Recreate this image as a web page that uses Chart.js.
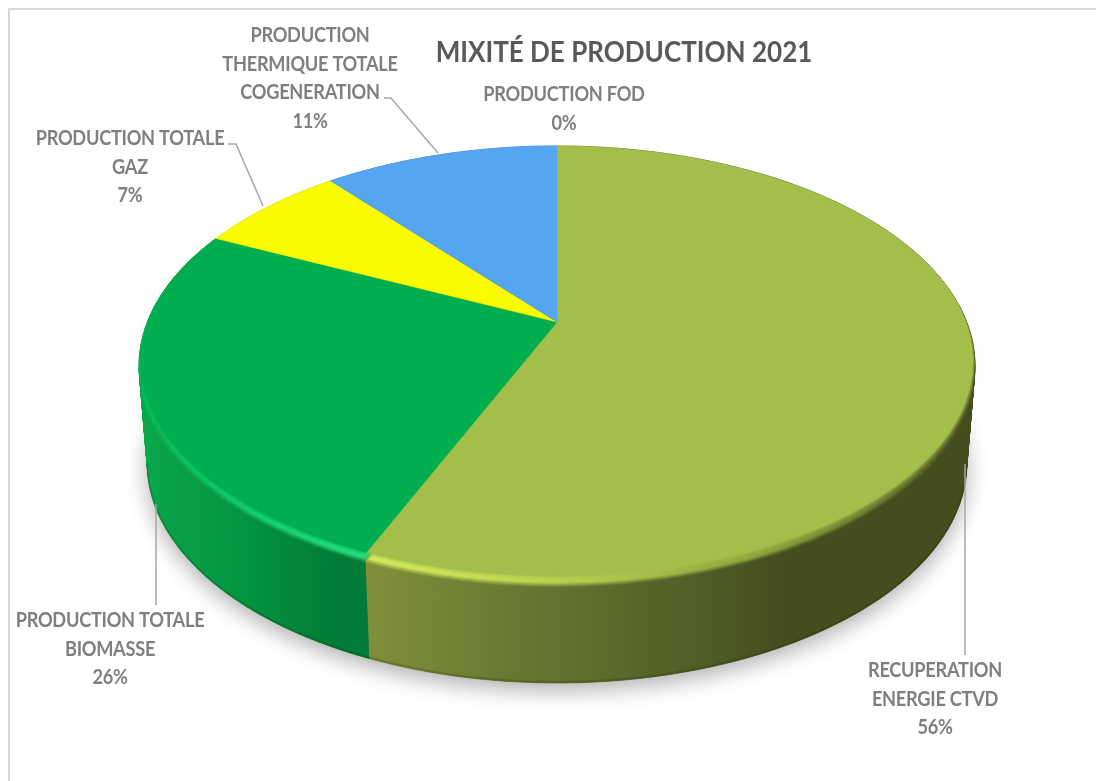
<!DOCTYPE html>
<html lang="fr">
<head>
<meta charset="utf-8">
<title>Mixité de production 2021</title>
<script src="https://cdn.jsdelivr.net/npm/chart.js@4"></script>
<style>
  html, body { margin: 0; background: #fff; }
  canvas { display: block; }
</style>
</head>
<body>
<canvas id="pie" width="1096" height="781"></canvas>
<script>
const chartTitle = 'MIXITÉ DE PRODUCTION 2021'
const categories = ['RECUPERATION ENERGIE CTVD', 'PRODUCTION TOTALE BIOMASSE', 'PRODUCTION TOTALE GAZ', 'PRODUCTION THERMIQUE TOTALE COGENERATION', 'PRODUCTION FOD']
const categoryLines = [
  ['RECUPERATION', 'ENERGIE CTVD'],
  ['PRODUCTION TOTALE', 'BIOMASSE'],
  ['PRODUCTION TOTALE', 'GAZ'],
  ['PRODUCTION', 'THERMIQUE TOTALE', 'COGENERATION'],
  ['PRODUCTION FOD']
]
const values = [56.25, 25.75, 7.0, 11.0, 0]

const faceColors = ['#a4be4b', '#00ad4f', '#fbfb00', '#56a5f0', '#8a8a8a']
// rim and wall colours run left to right across the picture
const rimStops = [
  [[0, '#d4ea5c'], [0.3, '#bcd452'], [0.65, '#8fa53c'], [1, '#55602a']],
  [[0, '#00c75f'], [0.6, '#14d574'], [1, '#24dd80']],
  [[0, '#fbfb00'], [1, '#fbfb00']],
  [[0, '#56a5f0'], [1, '#56a5f0']],
  [[0, '#8a8a8a'], [1, '#8a8a8a']]
]
const wallStops = [
  [[0, '#80903a'], [0.32, '#62712f'], [0.58, '#4e5a24'], [0.68, '#454d1f'], [1, '#454d1e']],
  [[0, '#0aa94c'], [0.45, '#039540'], [0.85, '#007c38'], [1, '#007c38']],
  [[0, '#c8c800'], [1, '#c8c800']],
  [[0, '#3f7fc0'], [1, '#3f7fc0']],
  [[0, '#666'], [1, '#666']]
]
const wallRange = [[365, 975], [138, 369], [138, 369], [138, 369], [138, 369]]

// label anchors: centre x and centre y of every line
const labelCentreX = [935, 110, 130, 310, 564]
const labelFirstY = [671, 621, 139, 36, 95]
const labelLineStep = 28.5
const leaders = [
  [[965, 464], [965, 655]],
  [[156, 504], [156, 605]],
  [[228, 144], [236, 144], [263, 206]],
  [[384, 98], [391, 98], [438, 153]]
]

// perspective of the disc
const apexX = 557, apexY = 322
const persp = 0.198, radX = 409.7, radY = 210.9
const depth = 98, baseShrink = 0.98, bevel = 9

function topPoint(a) {
  const u = Math.cos(a), v = Math.sin(a), d = 1 - persp * v
  return [apexX + radX * u / d, apexY + radY * v / d]
}
function basePoint(a) {
  const p = topPoint(a)
  return [apexX + (p[0] - apexX) * baseShrink, p[1] + depth]
}
function facePoint(a) {
  const p = topPoint(a), k = (1 + Math.sin(a)) / 2
  return [apexX + (p[0] - apexX) * (1 - 0.008 * k), p[1] - bevel * k * k]
}
function arcPoints(fn, a0, a1) {
  const n = Math.max(2, Math.ceil(Math.abs(a1 - a0) / 0.01))
  const out = []
  for (let i = 0; i <= n; i++) out.push(fn(a0 + (a1 - a0) * i / n))
  return out
}
function tracePoly(ctx, pts) {
  ctx.beginPath()
  pts.forEach((p, i) => i ? ctx.lineTo(p[0], p[1]) : ctx.moveTo(p[0], p[1]))
  ctx.closePath()
}
function hGradient(ctx, range, stops) {
  const g = ctx.createLinearGradient(range[0], 0, range[1], 0)
  stops.forEach(s => g.addColorStop(s[0], s[1]))
  return g
}
function squeezedText(ctx, text, x, y, sx) {
  ctx.save()
  ctx.translate(x, y)
  ctx.scale(sx, 1)
  ctx.fillText(text, 0, 0)
  ctx.restore()
}

const pie3dPlugin = {
  id: 'pie3d',
  beforeDatasetDraw(chart, args) {
    const ctx = chart.ctx
    const arcs = chart.getDatasetMeta(args.index).data
    const slices = arcs.map(arc => arc.getProps(['startAngle', 'endAngle'], true))

    // ground shadow
    ctx.save()
    ctx.shadowColor = 'rgba(0,0,0,0.32)'
    ctx.shadowBlur = 22
    ctx.shadowOffsetY = 7
    ctx.fillStyle = '#454d1e'
    tracePoly(ctx, arcPoints(basePoint, -Math.PI / 2, Math.PI * 1.5))
    ctx.fill()
    ctx.restore()

    // walls, one small quad at a time so the fold at the silhouette stays filled
    slices.forEach((s, i) => {
      if (s.endAngle - s.startAngle < 0.001) return
      const fill = hGradient(ctx, wallRange[i], wallStops[i])
      ctx.fillStyle = fill
      ctx.strokeStyle = fill
      ctx.lineWidth = 0.8
      const tops = arcPoints(topPoint, s.startAngle, s.endAngle)
      const bases = arcPoints(basePoint, s.startAngle, s.endAngle)
      for (let k = 0; k < tops.length - 1; k++) {
        tracePoly(ctx, [tops[k], tops[k + 1], bases[k + 1], bases[k]])
        ctx.fill()
        ctx.stroke()
      }
    })

    // dark line along the foot of the wall
    ctx.save()
    ctx.beginPath()
    arcPoints(basePoint, 0.2, Math.PI - 0.2).forEach((p, i) => i ? ctx.lineTo(p[0], p[1] - 1) : ctx.moveTo(p[0], p[1] - 1))
    ctx.strokeStyle = 'rgba(30,40,0,0.22)'
    ctx.lineWidth = 2
    ctx.stroke()
    ctx.restore()

    // soft rim band on the front half, kept inside the outline of the disc, then the flat top
    ctx.save()
    tracePoly(ctx, arcPoints(topPoint, Math.PI + 0.2, Math.PI * 2 - 0.2).concat(arcPoints(topPoint, -0.2, 0.2), arcPoints(basePoint, 0.2, Math.PI - 0.2), arcPoints(topPoint, Math.PI - 0.2, Math.PI + 0.2)))
    ctx.clip()
    ctx.filter = 'blur(1.4px)'
    slices.forEach((s, i) => {
      const a0 = Math.max(s.startAngle, -0.25), a1 = Math.min(s.endAngle, Math.PI + 0.25)
      if (a1 - a0 < 0.001) return
      tracePoly(ctx, [[apexX, apexY]].concat(arcPoints(topPoint, a0, a1)))
      ctx.fillStyle = hGradient(ctx, wallRange[i], rimStops[i])
      ctx.fill()
    })
    slices.forEach((s, i) => {
      const a0 = Math.max(s.startAngle, -0.25), a1 = Math.min(s.endAngle, Math.PI + 0.25)
      if (a1 - a0 < 0.001) return
      ctx.beginPath()
      arcPoints(facePoint, a0, a1).forEach((p, k) => k ? ctx.lineTo(p[0], p[1]) : ctx.moveTo(p[0], p[1]))
      ctx.strokeStyle = faceColors[i]
      ctx.lineWidth = 2.5
      ctx.stroke()
    })
    ctx.restore()

    slices.forEach((s, i) => {
      if (s.endAngle - s.startAngle < 0.001) return
      tracePoly(ctx, [[apexX, apexY]].concat(arcPoints(facePoint, s.startAngle, s.endAngle)))
      ctx.fillStyle = faceColors[i]
      ctx.strokeStyle = faceColors[i]
      ctx.lineWidth = 0.5
      ctx.fill()
      ctx.stroke()
    })
    return false
  },
  afterDraw(chart) {
    const ctx = chart.ctx
    const total = values.reduce((s, v) => s + v, 0)
    ctx.save()

    // frame of the pasted chart
    ctx.strokeStyle = '#d9d9d9'
    ctx.lineWidth = 2
    ctx.beginPath()
    ctx.moveTo(9, 790)
    ctx.lineTo(9, 9)
    ctx.lineTo(1100, 9)
    ctx.stroke()

    // leader lines
    ctx.strokeStyle = '#a6a6a6'
    ctx.lineWidth = 1.5
    leaders.forEach(line => {
      ctx.beginPath()
      line.forEach((p, i) => i ? ctx.lineTo(p[0], p[1]) : ctx.moveTo(p[0], p[1]))
      ctx.stroke()
    })

    ctx.textAlign = 'center'
    ctx.textBaseline = 'middle'

    ctx.fillStyle = '#595959'
    ctx.font = 'bold 28px Lato'
    squeezedText(ctx, chartTitle, 624, 53, 0.93)

    ctx.fillStyle = '#7f7f7f'
    ctx.font = 'bold 20px Lato'
    ctx.letterSpacing = '-0.3px'
    categoryLines.forEach((lines, i) => {
      const rows = lines.concat(Math.round(values[i] / total * 100) + '%')
      rows.forEach((t, j) => squeezedText(ctx, t, labelCentreX[i], labelFirstY[i] + j * labelLineStep, 0.91))
    })
    ctx.restore()
  }
}

new Chart(document.getElementById('pie'), {
  type: 'pie',
  data: {
    labels: categories,
    datasets: [{ data: values, backgroundColor: faceColors, borderWidth: 0 }]
  },
  options: {
    responsive: false,
    animation: false,
    events: [],
    plugins: { legend: { display: false }, tooltip: { enabled: false }, title: { display: false } }
  },
  plugins: [pie3dPlugin]
})
</script>
</body>
</html>
